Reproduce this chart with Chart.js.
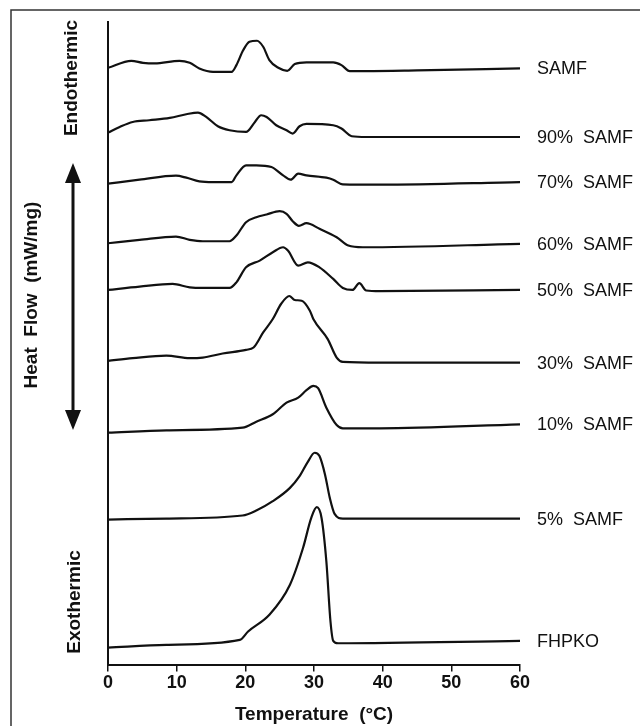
<!DOCTYPE html>
<html>
<head>
<meta charset="utf-8">
<script src="https://cdn.jsdelivr.net/npm/chart.js@4.4.0/dist/chart.umd.min.js"></script>
<style>
  html, body { margin: 0; padding: 0; background: #fff; }
  canvas { display: block; }
</style>
</head>
<body>
<canvas id="dscChart" width="640" height="726"></canvas>
<script>
// DSC melting curves, heat flow in arbitrary stacked units vs temperature (°C)
const seriesLabels = ['SAMF', '90%  SAMF', '70%  SAMF', '60%  SAMF', '50%  SAMF', '30%  SAMF', '10%  SAMF', '5%  SAMF', 'FHPKO'];
const xTicks = [0, 10, 20, 30, 40, 50, 60];

const tSamf = [0, 3.4, 5.1, 6.8, 10.4, 11.9, 13.3, 15.3, 18.0, 18.7, 19.7, 20.6, 21.7, 22.6, 23.5, 24.8, 26.1, 27.2, 28.9, 32.8, 34.0, 35.2, 37.6, 45, 60];
const hfSamf = [59.53, 60.23, 60.03, 59.97, 60.23, 60.03, 59.47, 59.13, 59.13, 59.8, 61.3, 62.13, 62.23, 61.63, 60.3, 59.53, 59.23, 59.9, 60.07, 60.07, 59.8, 59.2, 59.2, 59.27, 59.47];

const t90 = [0, 1.7, 3.6, 6, 9, 11.4, 13.1, 14.3, 16, 17.7, 20.1, 21.4, 22.3, 23.1, 24.5, 26, 26.9, 27.9, 28.9, 32.8, 34, 35.5, 37.6, 60];
const hf90 = [53.07, 53.63, 54.13, 54.3, 54.53, 54.9, 55.07, 54.63, 53.7, 53.3, 53.13, 54.13, 54.8, 54.63, 53.8, 53.3, 52.97, 53.7, 53.93, 53.8, 53.47, 52.7, 52.63, 52.63];

const t70 = [0, 4.6, 9.9, 11.4, 13.3, 15.3, 18, 18.7, 20.1, 21.6, 23.8, 25.5, 26.6, 27.7, 28.9, 31.8, 32.8, 34.2, 39.6, 60];
const hf70 = [47.97, 48.37, 48.77, 48.57, 48.2, 48.13, 48.13, 48.8, 49.8, 49.8, 49.63, 48.8, 48.37, 48.97, 48.8, 48.57, 48.37, 47.9, 47.87, 48.13];

const t60 = [0, 4.6, 9.9, 11.9, 13.8, 17.7, 18.7, 20.1, 21.6, 23.1, 25, 26, 26.9, 27.8, 28.9, 30.8, 33.3, 35, 37.1, 60];
const hf60 = [42.03, 42.37, 42.7, 42.37, 42.23, 42.23, 42.8, 44.13, 44.63, 44.9, 45.23, 44.97, 44.23, 43.77, 44.03, 43.47, 42.63, 41.8, 41.63, 41.97];

const t50 = [0, 4.6, 9.4, 11.9, 13.8, 17.7, 18.7, 20.1, 22.1, 24, 25.5, 26.2, 27.7, 29.1, 30.8, 32.8, 34.2, 35.6, 36.6, 37.6, 39.6, 60];
const hf50 = [37.37, 37.7, 37.97, 37.63, 37.57, 37.57, 38.13, 39.63, 40.3, 41.13, 41.63, 41.3, 39.8, 40.13, 39.63, 38.47, 37.57, 37.37, 38.05, 37.32, 37.25, 37.37];

const t30 = [0, 3.6, 8.5, 11.9, 13.8, 16.7, 20.1, 21.2, 22.6, 24, 25.2, 26.4, 27.2, 28.2, 29.4, 29.9, 32, 33.3, 34.2, 39.6, 60];
const hf30 = [30.3, 30.57, 30.83, 30.57, 30.63, 31.03, 31.4, 31.63, 33.13, 34.47, 35.97, 36.77, 36.37, 36.3, 35.3, 34.47, 32.47, 30.63, 30.2, 30.13, 30.13];

const t10 = [0, 8.5, 19.6, 21.6, 24, 26, 27.7, 28.9, 29.9, 30.6, 31.8, 33.3, 34.2, 39.6, 60];
const hf10 = [23.13, 23.37, 23.63, 24.23, 24.97, 26.13, 26.63, 27.37, 27.8, 27.57, 25.63, 23.9, 23.57, 23.57, 23.97];

const t5 = [0, 8.5, 19.6, 21.6, 24, 26.5, 27.9, 29.1, 30.1, 30.8, 31.6, 32.3, 33, 34.2, 60];
const hf5 = [14.47, 14.57, 14.87, 15.37, 16.3, 17.63, 18.8, 20.23, 21.13, 20.8, 18.97, 16.63, 15.03, 14.57, 14.57];

const tFhpko = [0, 8.5, 19.2, 20.4, 23.5, 26.5, 28.4, 29.6, 30.4, 31.1, 31.8, 32.4, 32.8, 33.5, 60];
const hfFhpko = [1.7, 1.97, 2.47, 3.3, 4.97, 7.97, 11.63, 14.63, 15.7, 14.63, 10.3, 4.3, 2.37, 2.13, 2.37];

const temps = [tSamf, t90, t70, t60, t50, t30, t10, t5, tFhpko];
const flows = [hfSamf, hf90, hf70, hf60, hf50, hf30, hf10, hf5, hfFhpko];

const FONT = '"Liberation Sans", Arial, Helvetica, sans-serif';

const datasets = seriesLabels.map((label, i) => ({
  label,
  data: temps[i].map((t, j) => ({ x: t, y: flows[i][j] })),
  borderColor: '#111',
  borderWidth: 2.2,
  pointRadius: 0,
  cubicInterpolationMode: 'monotone',
  fill: false,
}));

function rotatedText(ctx, text, x, y) {
  ctx.save();
  ctx.translate(x, y);
  ctx.rotate(-Math.PI / 2);
  ctx.textAlign = 'center';
  ctx.textBaseline = 'middle';
  ctx.fillText(text, 0, 0);
  ctx.restore();
}

const annotations = {
  id: 'annotations',
  beforeDraw(chart) {
    const { ctx } = chart;
    ctx.save();
    ctx.fillStyle = '#fff';
    ctx.fillRect(0, 0, chart.width, chart.height);
    // cropped figure frame (left + top only)
    ctx.strokeStyle = '#333';
    ctx.lineWidth = 1.5;
    ctx.beginPath();
    ctx.moveTo(11, chart.height);
    ctx.lineTo(11, 10);
    ctx.lineTo(chart.width, 10);
    ctx.stroke();
    ctx.restore();
  },
  afterDraw(chart) {
    const { ctx } = chart;
    const xs = chart.scales.x;
    const ys = chart.scales.y;
    ctx.save();
    ctx.fillStyle = '#111';

    // curve labels at the right end of each trace
    ctx.font = `18px ${FONT}`;
    ctx.textAlign = 'left';
    ctx.textBaseline = 'middle';
    chart.data.datasets.forEach((ds) => {
      const last = ds.data[ds.data.length - 1];
      ctx.fillText(ds.label, xs.getPixelForValue(60) + 17, ys.getPixelForValue(last.y) + 1);
    });

    // y-axis annotations
    ctx.font = `bold 19px ${FONT}`;
    rotatedText(ctx, 'Endothermic', 72, 78);
    rotatedText(ctx, 'Heat  Flow  (mW/mg)', 32, 295);
    rotatedText(ctx, 'Exothermic', 75, 602);

    // double-headed arrow
    const ax = 73;
    const top = 163;
    const bottom = 430;
    ctx.strokeStyle = '#111';
    ctx.lineWidth = 3;
    ctx.beginPath();
    ctx.moveTo(ax, top + 15);
    ctx.lineTo(ax, bottom - 15);
    ctx.stroke();
    ctx.beginPath();
    ctx.moveTo(ax, top);
    ctx.lineTo(ax - 8, top + 20);
    ctx.lineTo(ax + 8, top + 20);
    ctx.closePath();
    ctx.fill();
    ctx.beginPath();
    ctx.moveTo(ax, bottom);
    ctx.lineTo(ax - 8, bottom - 20);
    ctx.lineTo(ax + 8, bottom - 20);
    ctx.closePath();
    ctx.fill();
    ctx.restore();
  },
};

const ctx = document.getElementById('dscChart').getContext('2d');
const dscChart = new Chart(ctx, {
  type: 'line',
  data: { datasets },
  options: {
    responsive: false,
    animation: false,
    devicePixelRatio: 1,
    layout: {
      padding: { left: 100, right: 120, top: 22, bottom: 0 },
    },
    scales: {
      x: {
        type: 'linear',
        min: 0,
        max: 60,
        afterBuildTicks: (scale) => {
          scale.ticks = xTicks.map((v) => ({ value: v }));
        },
        grid: {
          drawOnChartArea: false,
          drawTicks: true,
          tickLength: 7,
          color: '#111',
          lineWidth: 1.5,
        },
        border: { display: true, color: '#111', width: 2 },
        ticks: {
          color: '#111',
          padding: 1,
          maxRotation: 0,
          font: { family: FONT, size: 18, weight: 'bold' },
        },
        title: {
          display: true,
          text: 'Temperature  (°C)',
          color: '#111',
          padding: { top: 8, bottom: 0 },
          font: { family: FONT, size: 19, weight: 'bold' },
        },
      },
      y: {
        type: 'linear',
        min: 0,
        max: 64.1,
        grid: { display: false },
        border: { display: true, color: '#111', width: 2 },
        ticks: { display: false },
      },
    },
    plugins: {
      legend: { display: false },
      tooltip: { enabled: false },
    },
  },
  plugins: [annotations],
});
</script>
</body>
</html>
